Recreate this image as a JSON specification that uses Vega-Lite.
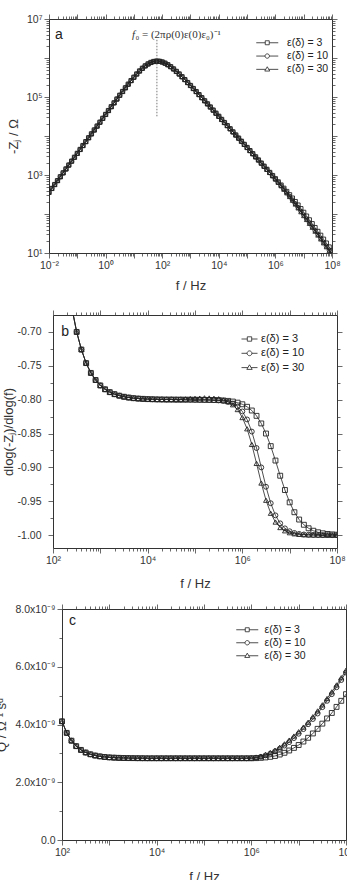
{
  "$schema": "https://vega.github.io/schema/vega-lite/v6.json",
  "background": "white",
  "padding": {"left": -5, "top": 13, "right": 0, "bottom": 0},
  "config": {
    "font": "Liberation Sans",
    "view": {"stroke": null},
    "axis": {"grid": false, "domain": false, "domainColor": "#333", "domainWidth": 1, "labelFontSize": 10.5, "labelColor": "#333", "labelFlush": false, "tickColor": "#444", "tickWidth": 0.8, "tickSize": 5, "titleFontSize": 13, "titleFontWeight": "normal", "titleColor": "#333", "labelOverlap": false, "labelPadding": 2},
    "legend": {"padding": 0}
  },
  "datasets": {
    "impedance": [
      {"f": 1e-2, "v": 358.9, "s": "ε(δ) = 3"}, {"f": 1.2589e-2, "v": 451.8, "s": "ε(δ) = 3"}, {"f": 1.5849e-2, "v": 568.9, "s": "ε(δ) = 3"}, {"f": 1.9953e-2, "v": 716.2, "s": "ε(δ) = 3"}, {"f": 2.5119e-2, "v": 901.6, "s": "ε(δ) = 3"}, {"f": 3.1623e-2, "v": 1135, "s": "ε(δ) = 3"}, {"f": 3.9811e-2, "v": 1429, "s": "ε(δ) = 3"}, {"f": 5.0119e-2, "v": 1799, "s": "ε(δ) = 3"}, {"f": 6.3096e-2, "v": 2265, "s": "ε(δ) = 3"}, {"f": 7.9433e-2, "v": 2851, "s": "ε(δ) = 3"},
      {"f": 1e-1, "v": 3589, "s": "ε(δ) = 3"}, {"f": 1.2589e-1, "v": 4518, "s": "ε(δ) = 3"}, {"f": 1.5849e-1, "v": 5689, "s": "ε(δ) = 3"}, {"f": 1.9953e-1, "v": 7162, "s": "ε(δ) = 3"}, {"f": 2.5119e-1, "v": 9010, "s": "ε(δ) = 3"}, {"f": 3.1623e-1, "v": 11340, "s": "ε(δ) = 3"}, {"f": 3.9811e-1, "v": 14271, "s": "ε(δ) = 3"}, {"f": 5.0119e-1, "v": 17957, "s": "ε(δ) = 3"}, {"f": 6.3096e-1, "v": 22594, "s": "ε(δ) = 3"}, {"f": 7.9433e-1, "v": 28411, "s": "ε(δ) = 3"},
      {"f": 1, "v": 35727, "s": "ε(δ) = 3"}, {"f": 1.2589, "v": 44895, "s": "ε(δ) = 3"}, {"f": 1.5849, "v": 56392, "s": "ε(δ) = 3"}, {"f": 1.9953, "v": 70795, "s": "ε(δ) = 3"}, {"f": 2.5119, "v": 88716, "s": "ε(δ) = 3"}, {"f": 3.1623, "v": 110920, "s": "ε(δ) = 3"}, {"f": 3.9811, "v": 138360, "s": "ε(δ) = 3"}, {"f": 5.0119, "v": 172190, "s": "ε(δ) = 3"}, {"f": 6.3096, "v": 213300, "s": "ε(δ) = 3"}, {"f": 7.9433, "v": 263030, "s": "ε(δ) = 3"},
      {"f": 10, "v": 321380, "s": "ε(δ) = 3"}, {"f": 12.589, "v": 389050, "s": "ε(δ) = 3"}, {"f": 15.849, "v": 464520, "s": "ε(δ) = 3"}, {"f": 19.953, "v": 545750, "s": "ε(δ) = 3"}, {"f": 25.119, "v": 628060, "s": "ε(δ) = 3"}, {"f": 31.623, "v": 704720, "s": "ε(δ) = 3"}, {"f": 39.811, "v": 769110, "s": "ε(δ) = 3"}, {"f": 50.119, "v": 812830, "s": "ε(δ) = 3"}, {"f": 63.096, "v": 831760, "s": "ε(δ) = 3"}, {"f": 79.433, "v": 824110, "s": "ε(δ) = 3"},
      {"f": 100, "v": 790680, "s": "ε(δ) = 3"}, {"f": 125.89, "v": 737880, "s": "ε(δ) = 3"}, {"f": 158.49, "v": 671400, "s": "ε(δ) = 3"}, {"f": 199.53, "v": 598400, "s": "ε(δ) = 3"}, {"f": 251.19, "v": 524810, "s": "ε(δ) = 3"}, {"f": 316.23, "v": 452890, "s": "ε(δ) = 3"}, {"f": 398.11, "v": 389050, "s": "ε(δ) = 3"}, {"f": 501.19, "v": 330370, "s": "ε(δ) = 3"}, {"f": 630.96, "v": 279250, "s": "ε(δ) = 3"}, {"f": 794.33, "v": 234420, "s": "ε(δ) = 3"},
      {"f": 1000, "v": 197240, "s": "ε(δ) = 3"}, {"f": 1258.9, "v": 164810, "s": "ε(δ) = 3"}, {"f": 1584.9, "v": 137720, "s": "ε(δ) = 3"}, {"f": 1995.3, "v": 115080, "s": "ε(δ) = 3"}, {"f": 2511.9, "v": 95940, "s": "ε(δ) = 3"}, {"f": 3162.3, "v": 79980, "s": "ε(δ) = 3"}, {"f": 3981.1, "v": 66680, "s": "ε(δ) = 3"}, {"f": 5011.9, "v": 55462, "s": "ε(δ) = 3"}, {"f": 6309.6, "v": 46133, "s": "ε(δ) = 3"}, {"f": 7943.3, "v": 38372, "s": "ε(δ) = 3"},
      {"f": 1e4, "v": 31989, "s": "ε(δ) = 3"}, {"f": 1.2589e4, "v": 26607, "s": "ε(δ) = 3"}, {"f": 1.5849e4, "v": 22131, "s": "ε(δ) = 3"}, {"f": 1.9953e4, "v": 18408, "s": "ε(δ) = 3"}, {"f": 2.5119e4, "v": 15311, "s": "ε(δ) = 3"}, {"f": 3.1623e4, "v": 12735, "s": "ε(δ) = 3"}, {"f": 3.9811e4, "v": 10593, "s": "ε(δ) = 3"}, {"f": 5.0119e4, "v": 8810.6, "s": "ε(δ) = 3"}, {"f": 6.3096e4, "v": 7328.4, "s": "ε(δ) = 3"}, {"f": 7.9433e4, "v": 6095.5, "s": "ε(δ) = 3"},
      {"f": 1e5, "v": 5070, "s": "ε(δ) = 3"}, {"f": 1.2589e5, "v": 4217, "s": "ε(δ) = 3"}, {"f": 1.5849e5, "v": 3507.6, "s": "ε(δ) = 3"}, {"f": 1.9953e5, "v": 2917.5, "s": "ε(δ) = 3"}, {"f": 2.5119e5, "v": 2426.7, "s": "ε(δ) = 3"}, {"f": 3.1623e5, "v": 2018.4, "s": "ε(δ) = 3"}, {"f": 3.9811e5, "v": 1678.8, "s": "ε(δ) = 3"}, {"f": 5.0119e5, "v": 1396.4, "s": "ε(δ) = 3"}, {"f": 6.3096e5, "v": 1161.5, "s": "ε(δ) = 3"}, {"f": 7.9433e5, "v": 966.1, "s": "ε(δ) = 3"},
      {"f": 1e6, "v": 800.6, "s": "ε(δ) = 3"}, {"f": 1.2589e6, "v": 664.7, "s": "ε(δ) = 3"}, {"f": 1.5849e6, "v": 551.2, "s": "ε(δ) = 3"}, {"f": 1.9953e6, "v": 456.4, "s": "ε(δ) = 3"}, {"f": 2.5119e6, "v": 377.1, "s": "ε(δ) = 3"}, {"f": 3.1623e6, "v": 310.6, "s": "ε(δ) = 3"}, {"f": 3.9811e6, "v": 254.9, "s": "ε(δ) = 3"}, {"f": 5.0119e6, "v": 208.2, "s": "ε(δ) = 3"}, {"f": 6.3096e6, "v": 169.2, "s": "ε(δ) = 3"}, {"f": 7.9433e6, "v": 136.8, "s": "ε(δ) = 3"},
      {"f": 1e7, "v": 110.1, "s": "ε(δ) = 3"}, {"f": 1.2589e7, "v": 88.2, "s": "ε(δ) = 3"}, {"f": 1.5849e7, "v": 70.6, "s": "ε(δ) = 3"}, {"f": 1.9953e7, "v": 56.3, "s": "ε(δ) = 3"}, {"f": 2.5119e7, "v": 44.8, "s": "ε(δ) = 3"}, {"f": 3.1623e7, "v": 35.7, "s": "ε(δ) = 3"}, {"f": 3.9811e7, "v": 28.4, "s": "ε(δ) = 3"}, {"f": 5.0119e7, "v": 22.55, "s": "ε(δ) = 3"}, {"f": 6.3096e7, "v": 17.92, "s": "ε(δ) = 3"}, {"f": 7.9433e7, "v": 14.24, "s": "ε(δ) = 3"}, {"f": 1e8, "v": 11.32, "s": "ε(δ) = 3"},

      {"f": 1e-2, "v": 358.9, "s": "ε(δ) = 10"}, {"f": 1.2589e-2, "v": 451.8, "s": "ε(δ) = 10"}, {"f": 1.5849e-2, "v": 568.9, "s": "ε(δ) = 10"}, {"f": 1.9953e-2, "v": 716.2, "s": "ε(δ) = 10"}, {"f": 2.5119e-2, "v": 901.6, "s": "ε(δ) = 10"}, {"f": 3.1623e-2, "v": 1135, "s": "ε(δ) = 10"}, {"f": 3.9811e-2, "v": 1429, "s": "ε(δ) = 10"}, {"f": 5.0119e-2, "v": 1799, "s": "ε(δ) = 10"}, {"f": 6.3096e-2, "v": 2265, "s": "ε(δ) = 10"}, {"f": 7.9433e-2, "v": 2851, "s": "ε(δ) = 10"},
      {"f": 1e-1, "v": 3589, "s": "ε(δ) = 10"}, {"f": 1.2589e-1, "v": 4518, "s": "ε(δ) = 10"}, {"f": 1.5849e-1, "v": 5689, "s": "ε(δ) = 10"}, {"f": 1.9953e-1, "v": 7162, "s": "ε(δ) = 10"}, {"f": 2.5119e-1, "v": 9010, "s": "ε(δ) = 10"}, {"f": 3.1623e-1, "v": 11340, "s": "ε(δ) = 10"}, {"f": 3.9811e-1, "v": 14271, "s": "ε(δ) = 10"}, {"f": 5.0119e-1, "v": 17957, "s": "ε(δ) = 10"}, {"f": 6.3096e-1, "v": 22594, "s": "ε(δ) = 10"}, {"f": 7.9433e-1, "v": 28411, "s": "ε(δ) = 10"},
      {"f": 1, "v": 35727, "s": "ε(δ) = 10"}, {"f": 1.2589, "v": 44895, "s": "ε(δ) = 10"}, {"f": 1.5849, "v": 56392, "s": "ε(δ) = 10"}, {"f": 1.9953, "v": 70795, "s": "ε(δ) = 10"}, {"f": 2.5119, "v": 88716, "s": "ε(δ) = 10"}, {"f": 3.1623, "v": 110920, "s": "ε(δ) = 10"}, {"f": 3.9811, "v": 138360, "s": "ε(δ) = 10"}, {"f": 5.0119, "v": 172190, "s": "ε(δ) = 10"}, {"f": 6.3096, "v": 213300, "s": "ε(δ) = 10"}, {"f": 7.9433, "v": 263030, "s": "ε(δ) = 10"},
      {"f": 10, "v": 321380, "s": "ε(δ) = 10"}, {"f": 12.589, "v": 389050, "s": "ε(δ) = 10"}, {"f": 15.849, "v": 464520, "s": "ε(δ) = 10"}, {"f": 19.953, "v": 545750, "s": "ε(δ) = 10"}, {"f": 25.119, "v": 628060, "s": "ε(δ) = 10"}, {"f": 31.623, "v": 704720, "s": "ε(δ) = 10"}, {"f": 39.811, "v": 769110, "s": "ε(δ) = 10"}, {"f": 50.119, "v": 812830, "s": "ε(δ) = 10"}, {"f": 63.096, "v": 831760, "s": "ε(δ) = 10"}, {"f": 79.433, "v": 824110, "s": "ε(δ) = 10"},
      {"f": 100, "v": 790680, "s": "ε(δ) = 10"}, {"f": 125.89, "v": 737880, "s": "ε(δ) = 10"}, {"f": 158.49, "v": 671400, "s": "ε(δ) = 10"}, {"f": 199.53, "v": 598400, "s": "ε(δ) = 10"}, {"f": 251.19, "v": 524810, "s": "ε(δ) = 10"}, {"f": 316.23, "v": 452890, "s": "ε(δ) = 10"}, {"f": 398.11, "v": 389050, "s": "ε(δ) = 10"}, {"f": 501.19, "v": 330370, "s": "ε(δ) = 10"}, {"f": 630.96, "v": 279250, "s": "ε(δ) = 10"}, {"f": 794.33, "v": 234420, "s": "ε(δ) = 10"},
      {"f": 1000, "v": 197240, "s": "ε(δ) = 10"}, {"f": 1258.9, "v": 164810, "s": "ε(δ) = 10"}, {"f": 1584.9, "v": 137720, "s": "ε(δ) = 10"}, {"f": 1995.3, "v": 115080, "s": "ε(δ) = 10"}, {"f": 2511.9, "v": 95940, "s": "ε(δ) = 10"}, {"f": 3162.3, "v": 79980, "s": "ε(δ) = 10"}, {"f": 3981.1, "v": 66680, "s": "ε(δ) = 10"}, {"f": 5011.9, "v": 55462, "s": "ε(δ) = 10"}, {"f": 6309.6, "v": 46133, "s": "ε(δ) = 10"}, {"f": 7943.3, "v": 38372, "s": "ε(δ) = 10"},
      {"f": 1e4, "v": 31989, "s": "ε(δ) = 10"}, {"f": 1.2589e4, "v": 26607, "s": "ε(δ) = 10"}, {"f": 1.5849e4, "v": 22131, "s": "ε(δ) = 10"}, {"f": 1.9953e4, "v": 18408, "s": "ε(δ) = 10"}, {"f": 2.5119e4, "v": 15311, "s": "ε(δ) = 10"}, {"f": 3.1623e4, "v": 12735, "s": "ε(δ) = 10"}, {"f": 3.9811e4, "v": 10593, "s": "ε(δ) = 10"}, {"f": 5.0119e4, "v": 8810.6, "s": "ε(δ) = 10"}, {"f": 6.3096e4, "v": 7328.4, "s": "ε(δ) = 10"}, {"f": 7.9433e4, "v": 6095.5, "s": "ε(δ) = 10"},
      {"f": 1e5, "v": 5070, "s": "ε(δ) = 10"}, {"f": 1.2589e5, "v": 4217, "s": "ε(δ) = 10"}, {"f": 1.5849e5, "v": 3507.6, "s": "ε(δ) = 10"}, {"f": 1.9953e5, "v": 2917.5, "s": "ε(δ) = 10"}, {"f": 2.5119e5, "v": 2426.7, "s": "ε(δ) = 10"}, {"f": 3.1623e5, "v": 2013.8, "s": "ε(δ) = 10"}, {"f": 3.9811e5, "v": 1672.6, "s": "ε(δ) = 10"}, {"f": 5.0119e5, "v": 1388.7, "s": "ε(δ) = 10"}, {"f": 6.3096e5, "v": 1151.6, "s": "ε(δ) = 10"}, {"f": 7.9433e5, "v": 953.5, "s": "ε(δ) = 10"},
      {"f": 1e6, "v": 787.9, "s": "ε(δ) = 10"}, {"f": 1.2589e6, "v": 649.0, "s": "ε(δ) = 10"}, {"f": 1.5849e6, "v": 532.4, "s": "ε(δ) = 10"}, {"f": 1.9953e6, "v": 434.9, "s": "ε(δ) = 10"}, {"f": 2.5119e6, "v": 353.4, "s": "ε(δ) = 10"}, {"f": 3.1623e6, "v": 285.7, "s": "ε(δ) = 10"}, {"f": 3.9811e6, "v": 230.0, "s": "ε(δ) = 10"}, {"f": 5.0119e6, "v": 184.4, "s": "ε(δ) = 10"}, {"f": 6.3096e6, "v": 147.5, "s": "ε(δ) = 10"}, {"f": 7.9433e6, "v": 117.6, "s": "ε(δ) = 10"},
      {"f": 1e7, "v": 93.68, "s": "ε(δ) = 10"}, {"f": 1.2589e7, "v": 74.56, "s": "ε(δ) = 10"}, {"f": 1.5849e7, "v": 59.30, "s": "ε(δ) = 10"}, {"f": 1.9953e7, "v": 47.14, "s": "ε(δ) = 10"}, {"f": 2.5119e7, "v": 37.45, "s": "ε(δ) = 10"}, {"f": 3.1623e7, "v": 29.76, "s": "ε(δ) = 10"}, {"f": 3.9811e7, "v": 23.64, "s": "ε(δ) = 10"}, {"f": 5.0119e7, "v": 18.78, "s": "ε(δ) = 10"}, {"f": 6.3096e7, "v": 14.92, "s": "ε(δ) = 10"}, {"f": 7.9433e7, "v": 11.86, "s": "ε(δ) = 10"}, {"f": 1e8, "v": 9.42, "s": "ε(δ) = 10"},

      {"f": 1e-2, "v": 358.9, "s": "ε(δ) = 30"}, {"f": 1.2589e-2, "v": 451.8, "s": "ε(δ) = 30"}, {"f": 1.5849e-2, "v": 568.9, "s": "ε(δ) = 30"}, {"f": 1.9953e-2, "v": 716.2, "s": "ε(δ) = 30"}, {"f": 2.5119e-2, "v": 901.6, "s": "ε(δ) = 30"}, {"f": 3.1623e-2, "v": 1135, "s": "ε(δ) = 30"}, {"f": 3.9811e-2, "v": 1429, "s": "ε(δ) = 30"}, {"f": 5.0119e-2, "v": 1799, "s": "ε(δ) = 30"}, {"f": 6.3096e-2, "v": 2265, "s": "ε(δ) = 30"}, {"f": 7.9433e-2, "v": 2851, "s": "ε(δ) = 30"},
      {"f": 1e-1, "v": 3589, "s": "ε(δ) = 30"}, {"f": 1.2589e-1, "v": 4518, "s": "ε(δ) = 30"}, {"f": 1.5849e-1, "v": 5689, "s": "ε(δ) = 30"}, {"f": 1.9953e-1, "v": 7162, "s": "ε(δ) = 30"}, {"f": 2.5119e-1, "v": 9010, "s": "ε(δ) = 30"}, {"f": 3.1623e-1, "v": 11340, "s": "ε(δ) = 30"}, {"f": 3.9811e-1, "v": 14271, "s": "ε(δ) = 30"}, {"f": 5.0119e-1, "v": 17957, "s": "ε(δ) = 30"}, {"f": 6.3096e-1, "v": 22594, "s": "ε(δ) = 30"}, {"f": 7.9433e-1, "v": 28411, "s": "ε(δ) = 30"},
      {"f": 1, "v": 35727, "s": "ε(δ) = 30"}, {"f": 1.2589, "v": 44895, "s": "ε(δ) = 30"}, {"f": 1.5849, "v": 56392, "s": "ε(δ) = 30"}, {"f": 1.9953, "v": 70795, "s": "ε(δ) = 30"}, {"f": 2.5119, "v": 88716, "s": "ε(δ) = 30"}, {"f": 3.1623, "v": 110920, "s": "ε(δ) = 30"}, {"f": 3.9811, "v": 138360, "s": "ε(δ) = 30"}, {"f": 5.0119, "v": 172190, "s": "ε(δ) = 30"}, {"f": 6.3096, "v": 213300, "s": "ε(δ) = 30"}, {"f": 7.9433, "v": 263030, "s": "ε(δ) = 30"},
      {"f": 10, "v": 321380, "s": "ε(δ) = 30"}, {"f": 12.589, "v": 389050, "s": "ε(δ) = 30"}, {"f": 15.849, "v": 464520, "s": "ε(δ) = 30"}, {"f": 19.953, "v": 545750, "s": "ε(δ) = 30"}, {"f": 25.119, "v": 628060, "s": "ε(δ) = 30"}, {"f": 31.623, "v": 704720, "s": "ε(δ) = 30"}, {"f": 39.811, "v": 769110, "s": "ε(δ) = 30"}, {"f": 50.119, "v": 812830, "s": "ε(δ) = 30"}, {"f": 63.096, "v": 831760, "s": "ε(δ) = 30"}, {"f": 79.433, "v": 824110, "s": "ε(δ) = 30"},
      {"f": 100, "v": 790680, "s": "ε(δ) = 30"}, {"f": 125.89, "v": 737880, "s": "ε(δ) = 30"}, {"f": 158.49, "v": 671400, "s": "ε(δ) = 30"}, {"f": 199.53, "v": 598400, "s": "ε(δ) = 30"}, {"f": 251.19, "v": 524810, "s": "ε(δ) = 30"}, {"f": 316.23, "v": 452890, "s": "ε(δ) = 30"}, {"f": 398.11, "v": 389050, "s": "ε(δ) = 30"}, {"f": 501.19, "v": 330370, "s": "ε(δ) = 30"}, {"f": 630.96, "v": 279250, "s": "ε(δ) = 30"}, {"f": 794.33, "v": 234420, "s": "ε(δ) = 30"},
      {"f": 1000, "v": 197240, "s": "ε(δ) = 30"}, {"f": 1258.9, "v": 164810, "s": "ε(δ) = 30"}, {"f": 1584.9, "v": 137720, "s": "ε(δ) = 30"}, {"f": 1995.3, "v": 115080, "s": "ε(δ) = 30"}, {"f": 2511.9, "v": 95940, "s": "ε(δ) = 30"}, {"f": 3162.3, "v": 79980, "s": "ε(δ) = 30"}, {"f": 3981.1, "v": 66680, "s": "ε(δ) = 30"}, {"f": 5011.9, "v": 55462, "s": "ε(δ) = 30"}, {"f": 6309.6, "v": 46133, "s": "ε(δ) = 30"}, {"f": 7943.3, "v": 38372, "s": "ε(δ) = 30"},
      {"f": 1e4, "v": 31989, "s": "ε(δ) = 30"}, {"f": 1.2589e4, "v": 26607, "s": "ε(δ) = 30"}, {"f": 1.5849e4, "v": 22131, "s": "ε(δ) = 30"}, {"f": 1.9953e4, "v": 18408, "s": "ε(δ) = 30"}, {"f": 2.5119e4, "v": 15311, "s": "ε(δ) = 30"}, {"f": 3.1623e4, "v": 12735, "s": "ε(δ) = 30"}, {"f": 3.9811e4, "v": 10593, "s": "ε(δ) = 30"}, {"f": 5.0119e4, "v": 8810.6, "s": "ε(δ) = 30"}, {"f": 6.3096e4, "v": 7328.4, "s": "ε(δ) = 30"}, {"f": 7.9433e4, "v": 6095.5, "s": "ε(δ) = 30"},
      {"f": 1e5, "v": 5070, "s": "ε(δ) = 30"}, {"f": 1.2589e5, "v": 4217, "s": "ε(δ) = 30"}, {"f": 1.5849e5, "v": 3507.6, "s": "ε(δ) = 30"}, {"f": 1.9953e5, "v": 2917.5, "s": "ε(δ) = 30"}, {"f": 2.5119e5, "v": 2426.7, "s": "ε(δ) = 30"}, {"f": 3.1623e5, "v": 2010.9, "s": "ε(δ) = 30"}, {"f": 3.9811e5, "v": 1669.6, "s": "ε(δ) = 30"}, {"f": 5.0119e5, "v": 1384.5, "s": "ε(δ) = 30"}, {"f": 6.3096e5, "v": 1146.4, "s": "ε(δ) = 30"}, {"f": 7.9433e5, "v": 947.2, "s": "ε(δ) = 30"},
      {"f": 1e6, "v": 780.3, "s": "ε(δ) = 30"}, {"f": 1.2589e6, "v": 640.2, "s": "ε(δ) = 30"}, {"f": 1.5849e6, "v": 522.9, "s": "ε(δ) = 30"}, {"f": 1.9953e6, "v": 424.9, "s": "ε(δ) = 30"}, {"f": 2.5119e6, "v": 343.5, "s": "ε(δ) = 30"}, {"f": 3.1623e6, "v": 276.5, "s": "ε(δ) = 30"}, {"f": 3.9811e6, "v": 221.7, "s": "ε(δ) = 30"}, {"f": 5.0119e6, "v": 177.3, "s": "ε(δ) = 30"}, {"f": 6.3096e6, "v": 141.4, "s": "ε(δ) = 30"}, {"f": 7.9433e6, "v": 112.6, "s": "ε(δ) = 30"},
      {"f": 1e7, "v": 89.65, "s": "ε(δ) = 30"}, {"f": 1.2589e7, "v": 71.28, "s": "ε(δ) = 30"}, {"f": 1.5849e7, "v": 56.66, "s": "ε(δ) = 30"}, {"f": 1.9953e7, "v": 45.03, "s": "ε(δ) = 30"}, {"f": 2.5119e7, "v": 35.77, "s": "ε(δ) = 30"}, {"f": 3.1623e7, "v": 28.43, "s": "ε(δ) = 30"}, {"f": 3.9811e7, "v": 22.58, "s": "ε(δ) = 30"}, {"f": 5.0119e7, "v": 17.94, "s": "ε(δ) = 30"}, {"f": 6.3096e7, "v": 14.25, "s": "ε(δ) = 30"}, {"f": 7.9433e7, "v": 11.32, "s": "ε(δ) = 30"}, {"f": 1e8, "v": 8.99, "s": "ε(δ) = 30"}
    ],
    "slope": [
      {"f": 251.19, "v": -0.665, "s": "ε(δ) = 3"}, {"f": 316.23, "v": -0.700, "s": "ε(δ) = 3"}, {"f": 398.11, "v": -0.726, "s": "ε(δ) = 3"}, {"f": 501.19, "v": -0.746, "s": "ε(δ) = 3"}, {"f": 630.96, "v": -0.7605, "s": "ε(δ) = 3"}, {"f": 794.33, "v": -0.771, "s": "ε(δ) = 3"},
      {"f": 1000, "v": -0.779, "s": "ε(δ) = 3"}, {"f": 1258.9, "v": -0.7847, "s": "ε(δ) = 3"}, {"f": 1584.9, "v": -0.7889, "s": "ε(δ) = 3"}, {"f": 1995.3, "v": -0.7919, "s": "ε(δ) = 3"}, {"f": 2511.9, "v": -0.7941, "s": "ε(δ) = 3"}, {"f": 3162.3, "v": -0.7957, "s": "ε(δ) = 3"}, {"f": 3981.1, "v": -0.7969, "s": "ε(δ) = 3"}, {"f": 5011.9, "v": -0.7978, "s": "ε(δ) = 3"}, {"f": 6309.6, "v": -0.7984, "s": "ε(δ) = 3"}, {"f": 7943.3, "v": -0.7988, "s": "ε(δ) = 3"},
      {"f": 1e4, "v": -0.7992, "s": "ε(δ) = 3"}, {"f": 1.2589e4, "v": -0.7994, "s": "ε(δ) = 3"}, {"f": 1.5849e4, "v": -0.7996, "s": "ε(δ) = 3"}, {"f": 1.9953e4, "v": -0.7997, "s": "ε(δ) = 3"}, {"f": 2.5119e4, "v": -0.7998, "s": "ε(δ) = 3"}, {"f": 3.1623e4, "v": -0.7998, "s": "ε(δ) = 3"}, {"f": 3.9811e4, "v": -0.7999, "s": "ε(δ) = 3"}, {"f": 5.0119e4, "v": -0.7999, "s": "ε(δ) = 3"}, {"f": 6.3096e4, "v": -0.8, "s": "ε(δ) = 3"}, {"f": 7.9433e4, "v": -0.8, "s": "ε(δ) = 3"},
      {"f": 1e5, "v": -0.8001, "s": "ε(δ) = 3"}, {"f": 1.2589e5, "v": -0.8002, "s": "ε(δ) = 3"}, {"f": 1.5849e5, "v": -0.8003, "s": "ε(δ) = 3"}, {"f": 1.9953e5, "v": -0.8004, "s": "ε(δ) = 3"}, {"f": 2.5119e5, "v": -0.8005, "s": "ε(δ) = 3"}, {"f": 3.1623e5, "v": -0.8007, "s": "ε(δ) = 3"}, {"f": 3.9811e5, "v": -0.8012, "s": "ε(δ) = 3"}, {"f": 5.0119e5, "v": -0.8018, "s": "ε(δ) = 3"}, {"f": 6.3096e5, "v": -0.8028, "s": "ε(δ) = 3"}, {"f": 7.9433e5, "v": -0.8044, "s": "ε(δ) = 3"},
      {"f": 1e6, "v": -0.8068, "s": "ε(δ) = 3"}, {"f": 1.2589e6, "v": -0.8105, "s": "ε(δ) = 3"}, {"f": 1.5849e6, "v": -0.816, "s": "ε(δ) = 3"}, {"f": 1.9953e6, "v": -0.8239, "s": "ε(δ) = 3"}, {"f": 2.5119e6, "v": -0.8351, "s": "ε(δ) = 3"}, {"f": 3.1623e6, "v": -0.85, "s": "ε(δ) = 3"}, {"f": 3.9811e6, "v": -0.8686, "s": "ε(δ) = 3"}, {"f": 5.0119e6, "v": -0.8899, "s": "ε(δ) = 3"}, {"f": 6.3096e6, "v": -0.9123, "s": "ε(δ) = 3"}, {"f": 7.9433e6, "v": -0.9334, "s": "ε(δ) = 3"},
      {"f": 1e7, "v": -0.9516, "s": "ε(δ) = 3"}, {"f": 1.2589e7, "v": -0.9662, "s": "ε(δ) = 3"}, {"f": 1.5849e7, "v": -0.977, "s": "ε(δ) = 3"}, {"f": 1.9953e7, "v": -0.9847, "s": "ε(δ) = 3"}, {"f": 2.5119e7, "v": -0.9899, "s": "ε(δ) = 3"}, {"f": 3.1623e7, "v": -0.9935, "s": "ε(δ) = 3"}, {"f": 3.9811e7, "v": -0.9958, "s": "ε(δ) = 3"}, {"f": 5.0119e7, "v": -0.9973, "s": "ε(δ) = 3"}, {"f": 6.3096e7, "v": -0.9983, "s": "ε(δ) = 3"}, {"f": 7.9433e7, "v": -0.9989, "s": "ε(δ) = 3"}, {"f": 1e8, "v": -0.9993, "s": "ε(δ) = 3"},

      {"f": 251.19, "v": -0.665, "s": "ε(δ) = 10"}, {"f": 316.23, "v": -0.700, "s": "ε(δ) = 10"}, {"f": 398.11, "v": -0.726, "s": "ε(δ) = 10"}, {"f": 501.19, "v": -0.746, "s": "ε(δ) = 10"}, {"f": 630.96, "v": -0.7605, "s": "ε(δ) = 10"}, {"f": 794.33, "v": -0.771, "s": "ε(δ) = 10"},
      {"f": 1000, "v": -0.779, "s": "ε(δ) = 10"}, {"f": 1258.9, "v": -0.7847, "s": "ε(δ) = 10"}, {"f": 1584.9, "v": -0.7889, "s": "ε(δ) = 10"}, {"f": 1995.3, "v": -0.7919, "s": "ε(δ) = 10"}, {"f": 2511.9, "v": -0.7941, "s": "ε(δ) = 10"}, {"f": 3162.3, "v": -0.7957, "s": "ε(δ) = 10"}, {"f": 3981.1, "v": -0.7969, "s": "ε(δ) = 10"}, {"f": 5011.9, "v": -0.7978, "s": "ε(δ) = 10"}, {"f": 6309.6, "v": -0.7984, "s": "ε(δ) = 10"}, {"f": 7943.3, "v": -0.7988, "s": "ε(δ) = 10"},
      {"f": 1e4, "v": -0.7992, "s": "ε(δ) = 10"}, {"f": 1.2589e4, "v": -0.7994, "s": "ε(δ) = 10"}, {"f": 1.5849e4, "v": -0.7996, "s": "ε(δ) = 10"}, {"f": 1.9953e4, "v": -0.7997, "s": "ε(δ) = 10"}, {"f": 2.5119e4, "v": -0.7998, "s": "ε(δ) = 10"}, {"f": 3.1623e4, "v": -0.7998, "s": "ε(δ) = 10"}, {"f": 3.9811e4, "v": -0.7999, "s": "ε(δ) = 10"}, {"f": 5.0119e4, "v": -0.7999, "s": "ε(δ) = 10"}, {"f": 6.3096e4, "v": -0.8, "s": "ε(δ) = 10"}, {"f": 7.9433e4, "v": -0.8, "s": "ε(δ) = 10"},
      {"f": 1e5, "v": -0.8001, "s": "ε(δ) = 10"}, {"f": 1.2589e5, "v": -0.8001, "s": "ε(δ) = 10"}, {"f": 1.5849e5, "v": -0.8002, "s": "ε(δ) = 10"}, {"f": 1.9953e5, "v": -0.8003, "s": "ε(δ) = 10"}, {"f": 2.5119e5, "v": -0.8006, "s": "ε(δ) = 10"}, {"f": 3.1623e5, "v": -0.801, "s": "ε(δ) = 10"}, {"f": 3.9811e5, "v": -0.8018, "s": "ε(δ) = 10"}, {"f": 5.0119e5, "v": -0.8032, "s": "ε(δ) = 10"}, {"f": 6.3096e5, "v": -0.8057, "s": "ε(δ) = 10"}, {"f": 7.9433e5, "v": -0.81, "s": "ε(δ) = 10"},
      {"f": 1e6, "v": -0.8174, "s": "ε(δ) = 10"}, {"f": 1.2589e6, "v": -0.8292, "s": "ε(δ) = 10"}, {"f": 1.5849e6, "v": -0.8471, "s": "ε(δ) = 10"}, {"f": 1.9953e6, "v": -0.8714, "s": "ε(δ) = 10"}, {"f": 2.5119e6, "v": -0.9, "s": "ε(δ) = 10"}, {"f": 3.1623e6, "v": -0.9286, "s": "ε(δ) = 10"}, {"f": 3.9811e6, "v": -0.9529, "s": "ε(δ) = 10"}, {"f": 5.0119e6, "v": -0.9708, "s": "ε(δ) = 10"}, {"f": 6.3096e6, "v": -0.9826, "s": "ε(δ) = 10"}, {"f": 7.9433e6, "v": -0.99, "s": "ε(δ) = 10"},
      {"f": 1e7, "v": -0.9943, "s": "ε(δ) = 10"}, {"f": 1.2589e7, "v": -0.9968, "s": "ε(δ) = 10"}, {"f": 1.5849e7, "v": -0.9982, "s": "ε(δ) = 10"}, {"f": 1.9953e7, "v": -0.999, "s": "ε(δ) = 10"}, {"f": 2.5119e7, "v": -0.9994, "s": "ε(δ) = 10"}, {"f": 3.1623e7, "v": -0.9997, "s": "ε(δ) = 10"}, {"f": 3.9811e7, "v": -0.9998, "s": "ε(δ) = 10"}, {"f": 5.0119e7, "v": -0.9999, "s": "ε(δ) = 10"}, {"f": 6.3096e7, "v": -0.9999, "s": "ε(δ) = 10"}, {"f": 7.9433e7, "v": -1.0, "s": "ε(δ) = 10"}, {"f": 1e8, "v": -1.0, "s": "ε(δ) = 10"},

      {"f": 251.19, "v": -0.665, "s": "ε(δ) = 30"}, {"f": 316.23, "v": -0.700, "s": "ε(δ) = 30"}, {"f": 398.11, "v": -0.726, "s": "ε(δ) = 30"}, {"f": 501.19, "v": -0.746, "s": "ε(δ) = 30"}, {"f": 630.96, "v": -0.7605, "s": "ε(δ) = 30"}, {"f": 794.33, "v": -0.771, "s": "ε(δ) = 30"},
      {"f": 1000, "v": -0.779, "s": "ε(δ) = 30"}, {"f": 1258.9, "v": -0.7847, "s": "ε(δ) = 30"}, {"f": 1584.9, "v": -0.7889, "s": "ε(δ) = 30"}, {"f": 1995.3, "v": -0.7919, "s": "ε(δ) = 30"}, {"f": 2511.9, "v": -0.7941, "s": "ε(δ) = 30"}, {"f": 3162.3, "v": -0.7957, "s": "ε(δ) = 30"}, {"f": 3981.1, "v": -0.7969, "s": "ε(δ) = 30"}, {"f": 5011.9, "v": -0.7978, "s": "ε(δ) = 30"}, {"f": 6309.6, "v": -0.7984, "s": "ε(δ) = 30"}, {"f": 7943.3, "v": -0.7988, "s": "ε(δ) = 30"},
      {"f": 1e4, "v": -0.7992, "s": "ε(δ) = 30"}, {"f": 1.2589e4, "v": -0.7994, "s": "ε(δ) = 30"}, {"f": 1.5849e4, "v": -0.7996, "s": "ε(δ) = 30"}, {"f": 1.9953e4, "v": -0.7997, "s": "ε(δ) = 30"}, {"f": 2.5119e4, "v": -0.7998, "s": "ε(δ) = 30"}, {"f": 3.1623e4, "v": -0.7998, "s": "ε(δ) = 30"}, {"f": 3.9811e4, "v": -0.7999, "s": "ε(δ) = 30"}, {"f": 5.0119e4, "v": -0.7999, "s": "ε(δ) = 30"}, {"f": 6.3096e4, "v": -0.799, "s": "ε(δ) = 30"}, {"f": 7.9433e4, "v": -0.7985, "s": "ε(δ) = 30"},
      {"f": 1e5, "v": -0.7981, "s": "ε(δ) = 30"}, {"f": 1.2589e5, "v": -0.7977, "s": "ε(δ) = 30"}, {"f": 1.5849e5, "v": -0.7973, "s": "ε(δ) = 30"}, {"f": 1.9953e5, "v": -0.7975, "s": "ε(δ) = 30"}, {"f": 2.5119e5, "v": -0.7979, "s": "ε(δ) = 30"}, {"f": 3.1623e5, "v": -0.7986, "s": "ε(δ) = 30"}, {"f": 3.9811e5, "v": -0.8004, "s": "ε(δ) = 30"}, {"f": 5.0119e5, "v": -0.8031, "s": "ε(δ) = 30"}, {"f": 6.3096e5, "v": -0.8075, "s": "ε(δ) = 30"}, {"f": 7.9433e5, "v": -0.8146, "s": "ε(δ) = 30"},
      {"f": 1e6, "v": -0.8264, "s": "ε(δ) = 30"}, {"f": 1.2589e6, "v": -0.843, "s": "ε(δ) = 30"}, {"f": 1.5849e6, "v": -0.8661, "s": "ε(δ) = 30"}, {"f": 1.9953e6, "v": -0.8941, "s": "ε(δ) = 30"}, {"f": 2.5119e6, "v": -0.9231, "s": "ε(δ) = 30"}, {"f": 3.1623e6, "v": -0.9485, "s": "ε(δ) = 30"}, {"f": 3.9811e6, "v": -0.9677, "s": "ε(δ) = 30"}, {"f": 5.0119e6, "v": -0.9807, "s": "ε(δ) = 30"}, {"f": 6.3096e6, "v": -0.9888, "s": "ε(δ) = 30"}, {"f": 7.9433e6, "v": -0.9936, "s": "ε(δ) = 30"},
      {"f": 1e7, "v": -0.9964, "s": "ε(δ) = 30"}, {"f": 1.2589e7, "v": -0.998, "s": "ε(δ) = 30"}, {"f": 1.5849e7, "v": -0.9989, "s": "ε(δ) = 30"}, {"f": 1.9953e7, "v": -0.9994, "s": "ε(δ) = 30"}, {"f": 2.5119e7, "v": -0.9997, "s": "ε(δ) = 30"}, {"f": 3.1623e7, "v": -0.9998, "s": "ε(δ) = 30"}, {"f": 3.9811e7, "v": -0.9999, "s": "ε(δ) = 30"}, {"f": 5.0119e7, "v": -1.0, "s": "ε(δ) = 30"}, {"f": 6.3096e7, "v": -1.0, "s": "ε(δ) = 30"}, {"f": 7.9433e7, "v": -1.0, "s": "ε(δ) = 30"}, {"f": 1e8, "v": -1.0, "s": "ε(δ) = 30"}
    ],
    "capacitance": [
      {"f": 100, "v": 4.11e-9, "s": "ε(δ) = 3"}, {"f": 125.89, "v": 3.71e-9, "s": "ε(δ) = 3"}, {"f": 158.49, "v": 3.44e-9, "s": "ε(δ) = 3"}, {"f": 199.53, "v": 3.25e-9, "s": "ε(δ) = 3"}, {"f": 251.19, "v": 3.12e-9, "s": "ε(δ) = 3"}, {"f": 316.23, "v": 3.03e-9, "s": "ε(δ) = 3"}, {"f": 398.11, "v": 2.968e-9, "s": "ε(δ) = 3"}, {"f": 501.19, "v": 2.925e-9, "s": "ε(δ) = 3"}, {"f": 630.96, "v": 2.896e-9, "s": "ε(δ) = 3"}, {"f": 794.33, "v": 2.875e-9, "s": "ε(δ) = 3"},
      {"f": 1000, "v": 2.861e-9, "s": "ε(δ) = 3"}, {"f": 1258.9, "v": 2.852e-9, "s": "ε(δ) = 3"}, {"f": 1584.9, "v": 2.845e-9, "s": "ε(δ) = 3"}, {"f": 1995.3, "v": 2.84e-9, "s": "ε(δ) = 3"}, {"f": 2511.9, "v": 2.837e-9, "s": "ε(δ) = 3"}, {"f": 3162.3, "v": 2.835e-9, "s": "ε(δ) = 3"}, {"f": 3981.1, "v": 2.833e-9, "s": "ε(δ) = 3"}, {"f": 5011.9, "v": 2.832e-9, "s": "ε(δ) = 3"}, {"f": 6309.6, "v": 2.83e-9, "s": "ε(δ) = 3"}, {"f": 7943.3, "v": 2.83e-9, "s": "ε(δ) = 3"},
      {"f": 1e4, "v": 2.83e-9, "s": "ε(δ) = 3"}, {"f": 1.2589e4, "v": 2.83e-9, "s": "ε(δ) = 3"}, {"f": 1.5849e4, "v": 2.83e-9, "s": "ε(δ) = 3"}, {"f": 1.9953e4, "v": 2.83e-9, "s": "ε(δ) = 3"}, {"f": 2.5119e4, "v": 2.83e-9, "s": "ε(δ) = 3"}, {"f": 3.1623e4, "v": 2.83e-9, "s": "ε(δ) = 3"}, {"f": 3.9811e4, "v": 2.83e-9, "s": "ε(δ) = 3"}, {"f": 5.0119e4, "v": 2.83e-9, "s": "ε(δ) = 3"}, {"f": 6.3096e4, "v": 2.83e-9, "s": "ε(δ) = 3"}, {"f": 7.9433e4, "v": 2.83e-9, "s": "ε(δ) = 3"},
      {"f": 1e5, "v": 2.83e-9, "s": "ε(δ) = 3"}, {"f": 1.2589e5, "v": 2.83e-9, "s": "ε(δ) = 3"}, {"f": 1.5849e5, "v": 2.83e-9, "s": "ε(δ) = 3"}, {"f": 1.9953e5, "v": 2.83e-9, "s": "ε(δ) = 3"}, {"f": 2.5119e5, "v": 2.83e-9, "s": "ε(δ) = 3"}, {"f": 3.1623e5, "v": 2.83e-9, "s": "ε(δ) = 3"}, {"f": 3.9811e5, "v": 2.83e-9, "s": "ε(δ) = 3"}, {"f": 5.0119e5, "v": 2.83e-9, "s": "ε(δ) = 3"}, {"f": 6.3096e5, "v": 2.83e-9, "s": "ε(δ) = 3"}, {"f": 7.9433e5, "v": 2.83e-9, "s": "ε(δ) = 3"},
      {"f": 1e6, "v": 2.83e-9, "s": "ε(δ) = 3"}, {"f": 1.2589e6, "v": 2.835e-9, "s": "ε(δ) = 3"}, {"f": 1.5849e6, "v": 2.845e-9, "s": "ε(δ) = 3"}, {"f": 1.9953e6, "v": 2.86e-9, "s": "ε(δ) = 3"}, {"f": 2.5119e6, "v": 2.88e-9, "s": "ε(δ) = 3"}, {"f": 3.1623e6, "v": 2.91e-9, "s": "ε(δ) = 3"}, {"f": 3.9811e6, "v": 2.96e-9, "s": "ε(δ) = 3"}, {"f": 5.0119e6, "v": 3.02e-9, "s": "ε(δ) = 3"}, {"f": 6.3096e6, "v": 3.10e-9, "s": "ε(δ) = 3"}, {"f": 7.9433e6, "v": 3.19e-9, "s": "ε(δ) = 3"},
      {"f": 1e7, "v": 3.29e-9, "s": "ε(δ) = 3"}, {"f": 1.2589e7, "v": 3.41e-9, "s": "ε(δ) = 3"}, {"f": 1.5849e7, "v": 3.54e-9, "s": "ε(δ) = 3"}, {"f": 1.9953e7, "v": 3.69e-9, "s": "ε(δ) = 3"}, {"f": 2.5119e7, "v": 3.85e-9, "s": "ε(δ) = 3"}, {"f": 3.1623e7, "v": 4.03e-9, "s": "ε(δ) = 3"}, {"f": 3.9811e7, "v": 4.21e-9, "s": "ε(δ) = 3"}, {"f": 5.0119e7, "v": 4.40e-9, "s": "ε(δ) = 3"}, {"f": 6.3096e7, "v": 4.61e-9, "s": "ε(δ) = 3"}, {"f": 7.9433e7, "v": 4.82e-9, "s": "ε(δ) = 3"}, {"f": 1e8, "v": 5.05e-9, "s": "ε(δ) = 3"},

      {"f": 100, "v": 4.11e-9, "s": "ε(δ) = 10"}, {"f": 125.89, "v": 3.71e-9, "s": "ε(δ) = 10"}, {"f": 158.49, "v": 3.44e-9, "s": "ε(δ) = 10"}, {"f": 199.53, "v": 3.25e-9, "s": "ε(δ) = 10"}, {"f": 251.19, "v": 3.12e-9, "s": "ε(δ) = 10"}, {"f": 316.23, "v": 3.03e-9, "s": "ε(δ) = 10"}, {"f": 398.11, "v": 2.968e-9, "s": "ε(δ) = 10"}, {"f": 501.19, "v": 2.925e-9, "s": "ε(δ) = 10"}, {"f": 630.96, "v": 2.896e-9, "s": "ε(δ) = 10"}, {"f": 794.33, "v": 2.875e-9, "s": "ε(δ) = 10"},
      {"f": 1000, "v": 2.861e-9, "s": "ε(δ) = 10"}, {"f": 1258.9, "v": 2.852e-9, "s": "ε(δ) = 10"}, {"f": 1584.9, "v": 2.845e-9, "s": "ε(δ) = 10"}, {"f": 1995.3, "v": 2.84e-9, "s": "ε(δ) = 10"}, {"f": 2511.9, "v": 2.837e-9, "s": "ε(δ) = 10"}, {"f": 3162.3, "v": 2.835e-9, "s": "ε(δ) = 10"}, {"f": 3981.1, "v": 2.833e-9, "s": "ε(δ) = 10"}, {"f": 5011.9, "v": 2.832e-9, "s": "ε(δ) = 10"}, {"f": 6309.6, "v": 2.83e-9, "s": "ε(δ) = 10"}, {"f": 7943.3, "v": 2.83e-9, "s": "ε(δ) = 10"},
      {"f": 1e4, "v": 2.83e-9, "s": "ε(δ) = 10"}, {"f": 1.2589e4, "v": 2.83e-9, "s": "ε(δ) = 10"}, {"f": 1.5849e4, "v": 2.83e-9, "s": "ε(δ) = 10"}, {"f": 1.9953e4, "v": 2.83e-9, "s": "ε(δ) = 10"}, {"f": 2.5119e4, "v": 2.83e-9, "s": "ε(δ) = 10"}, {"f": 3.1623e4, "v": 2.83e-9, "s": "ε(δ) = 10"}, {"f": 3.9811e4, "v": 2.83e-9, "s": "ε(δ) = 10"}, {"f": 5.0119e4, "v": 2.83e-9, "s": "ε(δ) = 10"}, {"f": 6.3096e4, "v": 2.83e-9, "s": "ε(δ) = 10"}, {"f": 7.9433e4, "v": 2.83e-9, "s": "ε(δ) = 10"},
      {"f": 1e5, "v": 2.83e-9, "s": "ε(δ) = 10"}, {"f": 1.2589e5, "v": 2.83e-9, "s": "ε(δ) = 10"}, {"f": 1.5849e5, "v": 2.83e-9, "s": "ε(δ) = 10"}, {"f": 1.9953e5, "v": 2.83e-9, "s": "ε(δ) = 10"}, {"f": 2.5119e5, "v": 2.83e-9, "s": "ε(δ) = 10"}, {"f": 3.1623e5, "v": 2.83e-9, "s": "ε(δ) = 10"}, {"f": 3.9811e5, "v": 2.83e-9, "s": "ε(δ) = 10"}, {"f": 5.0119e5, "v": 2.83e-9, "s": "ε(δ) = 10"}, {"f": 6.3096e5, "v": 2.83e-9, "s": "ε(δ) = 10"}, {"f": 7.9433e5, "v": 2.83e-9, "s": "ε(δ) = 10"},
      {"f": 1e6, "v": 2.835e-9, "s": "ε(δ) = 10"}, {"f": 1.2589e6, "v": 2.85e-9, "s": "ε(δ) = 10"}, {"f": 1.5849e6, "v": 2.88e-9, "s": "ε(δ) = 10"}, {"f": 1.9953e6, "v": 2.93e-9, "s": "ε(δ) = 10"}, {"f": 2.5119e6, "v": 2.99e-9, "s": "ε(δ) = 10"}, {"f": 3.1623e6, "v": 3.07e-9, "s": "ε(δ) = 10"}, {"f": 3.9811e6, "v": 3.16e-9, "s": "ε(δ) = 10"}, {"f": 5.0119e6, "v": 3.27e-9, "s": "ε(δ) = 10"}, {"f": 6.3096e6, "v": 3.39e-9, "s": "ε(δ) = 10"}, {"f": 7.9433e6, "v": 3.53e-9, "s": "ε(δ) = 10"},
      {"f": 1e7, "v": 3.68e-9, "s": "ε(δ) = 10"}, {"f": 1.2589e7, "v": 3.84e-9, "s": "ε(δ) = 10"}, {"f": 1.5849e7, "v": 4.01e-9, "s": "ε(δ) = 10"}, {"f": 1.9953e7, "v": 4.19e-9, "s": "ε(δ) = 10"}, {"f": 2.5119e7, "v": 4.38e-9, "s": "ε(δ) = 10"}, {"f": 3.1623e7, "v": 4.60e-9, "s": "ε(δ) = 10"}, {"f": 3.9811e7, "v": 4.82e-9, "s": "ε(δ) = 10"}, {"f": 5.0119e7, "v": 5.05e-9, "s": "ε(δ) = 10"}, {"f": 6.3096e7, "v": 5.29e-9, "s": "ε(δ) = 10"}, {"f": 7.9433e7, "v": 5.54e-9, "s": "ε(δ) = 10"}, {"f": 1e8, "v": 5.80e-9, "s": "ε(δ) = 10"},

      {"f": 100, "v": 4.11e-9, "s": "ε(δ) = 30"}, {"f": 125.89, "v": 3.71e-9, "s": "ε(δ) = 30"}, {"f": 158.49, "v": 3.44e-9, "s": "ε(δ) = 30"}, {"f": 199.53, "v": 3.25e-9, "s": "ε(δ) = 30"}, {"f": 251.19, "v": 3.12e-9, "s": "ε(δ) = 30"}, {"f": 316.23, "v": 3.03e-9, "s": "ε(δ) = 30"}, {"f": 398.11, "v": 2.968e-9, "s": "ε(δ) = 30"}, {"f": 501.19, "v": 2.925e-9, "s": "ε(δ) = 30"}, {"f": 630.96, "v": 2.896e-9, "s": "ε(δ) = 30"}, {"f": 794.33, "v": 2.875e-9, "s": "ε(δ) = 30"},
      {"f": 1000, "v": 2.861e-9, "s": "ε(δ) = 30"}, {"f": 1258.9, "v": 2.852e-9, "s": "ε(δ) = 30"}, {"f": 1584.9, "v": 2.845e-9, "s": "ε(δ) = 30"}, {"f": 1995.3, "v": 2.84e-9, "s": "ε(δ) = 30"}, {"f": 2511.9, "v": 2.837e-9, "s": "ε(δ) = 30"}, {"f": 3162.3, "v": 2.835e-9, "s": "ε(δ) = 30"}, {"f": 3981.1, "v": 2.833e-9, "s": "ε(δ) = 30"}, {"f": 5011.9, "v": 2.832e-9, "s": "ε(δ) = 30"}, {"f": 6309.6, "v": 2.83e-9, "s": "ε(δ) = 30"}, {"f": 7943.3, "v": 2.83e-9, "s": "ε(δ) = 30"},
      {"f": 1e4, "v": 2.83e-9, "s": "ε(δ) = 30"}, {"f": 1.2589e4, "v": 2.83e-9, "s": "ε(δ) = 30"}, {"f": 1.5849e4, "v": 2.83e-9, "s": "ε(δ) = 30"}, {"f": 1.9953e4, "v": 2.83e-9, "s": "ε(δ) = 30"}, {"f": 2.5119e4, "v": 2.83e-9, "s": "ε(δ) = 30"}, {"f": 3.1623e4, "v": 2.83e-9, "s": "ε(δ) = 30"}, {"f": 3.9811e4, "v": 2.83e-9, "s": "ε(δ) = 30"}, {"f": 5.0119e4, "v": 2.83e-9, "s": "ε(δ) = 30"}, {"f": 6.3096e4, "v": 2.83e-9, "s": "ε(δ) = 30"}, {"f": 7.9433e4, "v": 2.83e-9, "s": "ε(δ) = 30"},
      {"f": 1e5, "v": 2.83e-9, "s": "ε(δ) = 30"}, {"f": 1.2589e5, "v": 2.83e-9, "s": "ε(δ) = 30"}, {"f": 1.5849e5, "v": 2.83e-9, "s": "ε(δ) = 30"}, {"f": 1.9953e5, "v": 2.83e-9, "s": "ε(δ) = 30"}, {"f": 2.5119e5, "v": 2.83e-9, "s": "ε(δ) = 30"}, {"f": 3.1623e5, "v": 2.83e-9, "s": "ε(δ) = 30"}, {"f": 3.9811e5, "v": 2.83e-9, "s": "ε(δ) = 30"}, {"f": 5.0119e5, "v": 2.83e-9, "s": "ε(δ) = 30"}, {"f": 6.3096e5, "v": 2.83e-9, "s": "ε(δ) = 30"}, {"f": 7.9433e5, "v": 2.83e-9, "s": "ε(δ) = 30"},
      {"f": 1e6, "v": 2.84e-9, "s": "ε(δ) = 30"}, {"f": 1.2589e6, "v": 2.86e-9, "s": "ε(δ) = 30"}, {"f": 1.5849e6, "v": 2.90e-9, "s": "ε(δ) = 30"}, {"f": 1.9953e6, "v": 2.96e-9, "s": "ε(δ) = 30"}, {"f": 2.5119e6, "v": 3.03e-9, "s": "ε(δ) = 30"}, {"f": 3.1623e6, "v": 3.11e-9, "s": "ε(δ) = 30"}, {"f": 3.9811e6, "v": 3.21e-9, "s": "ε(δ) = 30"}, {"f": 5.0119e6, "v": 3.33e-9, "s": "ε(δ) = 30"}, {"f": 6.3096e6, "v": 3.46e-9, "s": "ε(δ) = 30"}, {"f": 7.9433e6, "v": 3.60e-9, "s": "ε(δ) = 30"},
      {"f": 1e7, "v": 3.75e-9, "s": "ε(δ) = 30"}, {"f": 1.2589e7, "v": 3.91e-9, "s": "ε(δ) = 30"}, {"f": 1.5849e7, "v": 4.08e-9, "s": "ε(δ) = 30"}, {"f": 1.9953e7, "v": 4.27e-9, "s": "ε(δ) = 30"}, {"f": 2.5119e7, "v": 4.47e-9, "s": "ε(δ) = 30"}, {"f": 3.1623e7, "v": 4.68e-9, "s": "ε(δ) = 30"}, {"f": 3.9811e7, "v": 4.90e-9, "s": "ε(δ) = 30"}, {"f": 5.0119e7, "v": 5.13e-9, "s": "ε(δ) = 30"}, {"f": 6.3096e7, "v": 5.37e-9, "s": "ε(δ) = 30"}, {"f": 7.9433e7, "v": 5.62e-9, "s": "ε(δ) = 30"}, {"f": 1e8, "v": 5.88e-9, "s": "ε(δ) = 30"}
    ]
  },
  "columns": 1,
  "spacing": 12,
  "concat": [
    {
      "width": 283,
      "height": 234,
      "data": {"name": "impedance"},
      "layer": [
        {
          "mark": {"type": "line", "color": "#222", "strokeWidth": 0.8, "clip": true},
          "encoding": {
            "x": {"field": "f", "type": "quantitative", "scale": {"type": "log", "domain": [0.01, 1e8], "nice": false}, "axis": {"orient": "bottom", "values": [0.02,0.03,0.04,0.05,0.06,0.07,0.08,0.09,0.2,0.3,0.4,0.5,0.6,0.7,0.8,0.9,2,3,4,5,6,7,8,9,20,30,40,50,60,70,80,90,200,300,400,500,600,700,800,900,2000,3000,4000,5000,6000,7000,8000,9000,2e4,3e4,4e4,5e4,6e4,7e4,8e4,9e4,2e5,3e5,4e5,5e5,6e5,7e5,8e5,9e5,2e6,3e6,4e6,5e6,6e6,7e6,8e6,9e6,2e7,3e7,4e7,5e7,6e7,7e7,8e7,9e7], "labels": false, "tickSize": 3, "title": null}},
            "y": {"field": "v", "type": "quantitative", "scale": {"type": "log", "domain": [10, 1e7], "nice": false}, "axis": {"orient": "left", "values": [20,30,40,50,60,70,80,90,200,300,400,500,600,700,800,900,2000,3000,4000,5000,6000,7000,8000,9000,2e4,3e4,4e4,5e4,6e4,7e4,8e4,9e4,2e5,3e5,4e5,5e5,6e5,7e5,8e5,9e5,2e6,3e6,4e6,5e6,6e6,7e6,8e6,9e6], "labels": false, "tickSize": 3, "title": null}},
            "detail": {"field": "s", "type": "nominal"}
          }
        },
        {
          "mark": {"type": "point", "filled": false, "color": "#222", "strokeWidth": 0.9, "size": 18, "opacity": 1, "clip": true},
          "encoding": {
            "x": {"field": "f", "type": "quantitative", "scale": {"type": "log", "domain": [0.01, 1e8], "nice": false}, "axis": {"orient": "bottom", "domain": true, "values": [0.01,0.1,1,10,100,1000,1e4,1e5,1e6,1e7,1e8], "labelExpr": "datum.value < 0.05 ? '10⁻²' : datum.value < 0.5 ? '' : datum.value < 5 ? '10⁰' : datum.value < 50 ? '' : datum.value < 500 ? '10²' : datum.value < 5000 ? '' : datum.value < 50000 ? '10⁴' : datum.value < 500000 ? '' : datum.value < 5000000 ? '10⁶' : datum.value < 50000000 ? '' : '10⁸'", "title": "f / Hz", "titlePadding": 9}},
            "y": {"field": "v", "type": "quantitative", "scale": {"type": "log", "domain": [10, 1e7], "nice": false}, "axis": {"orient": "left", "domain": true, "values": [10,100,1000,1e4,1e5,1e6,1e7], "labelExpr": "datum.value < 50 ? '10¹' : datum.value < 500 ? '' : datum.value < 5000 ? '10³' : datum.value < 50000 ? '' : datum.value < 500000 ? '10⁵' : datum.value < 5000000 ? '' : '10⁷'", "title": "-Zⱼ / Ω", "titlePadding": 5}},
            "shape": {"field": "s", "type": "nominal", "scale": {"domain": ["ε(δ) = 3", "ε(δ) = 10", "ε(δ) = 30"], "range": ["square", "circle", "triangle-up"]}, "legend": null}
          }
        },
        {
          "transform": [{"filter": "false"}],
          "mark": {"type": "point", "filled": false, "color": "#222", "strokeWidth": 0.8, "size": 0},
          "encoding": {
            "x": {"field": "f", "type": "quantitative", "axis": null},
            "y": {"field": "v", "type": "quantitative", "axis": null},
            "shape": {
              "field": "s", "type": "nominal",
              "scale": {"domain": ["ε(δ) = 3", "ε(δ) = 10", "ε(δ) = 30"], "range": ["M-5.5,0H-1M1,0H5.5M-1,-1H1V1H-1Z", "M-5.5,0H-1.1M1.1,0H5.5M-1.1,0A1.1,1.1,0,1,0,1.1,0A1.1,1.1,0,1,0,-1.1,0Z", "M-5.5,0H-0.75M0.75,0H5.5M0,-1.3L1.25,0.85H-1.25Z"]},
              "legend": {"title": null, "orient": "none", "legendX": 204, "legendY": 18.5, "labelFontSize": 10.5, "labelColor": "#222", "symbolSize": 16, "symbolStrokeColor": "#222", "symbolStrokeWidth": 0.8, "symbolOpacity": 1, "symbolOffset": 9, "labelOffset": 14.5, "rowPadding": 2.3}
            }
          }
        },
        {
          "mark": {"type": "point", "opacity": 0},
          "encoding": {
            "x": {"field": "f", "type": "quantitative", "scale": {"type": "log", "domain": [0.01, 1e8], "nice": false}, "axis": {"orient": "top", "domain": true, "values": [0.01,0.1,1,10,100,1000,1e4,1e5,1e6,1e7,1e8], "labels": false, "title": null}},
            "y": {"field": "v", "type": "quantitative", "scale": {"type": "log", "domain": [10, 1e7], "nice": false}, "axis": {"orient": "right", "domain": true, "values": [10,100,1000,1e4,1e5,1e6,1e7], "labels": false, "title": null}}
          }
        },
        {
          "mark": {"type": "point", "opacity": 0},
          "encoding": {
            "x": {"field": "f", "type": "quantitative", "scale": {"type": "log", "domain": [0.01, 1e8], "nice": false}, "axis": {"orient": "top", "values": [0.02,0.03,0.04,0.05,0.06,0.07,0.08,0.09,0.2,0.3,0.4,0.5,0.6,0.7,0.8,0.9,2,3,4,5,6,7,8,9,20,30,40,50,60,70,80,90,200,300,400,500,600,700,800,900,2000,3000,4000,5000,6000,7000,8000,9000,2e4,3e4,4e4,5e4,6e4,7e4,8e4,9e4,2e5,3e5,4e5,5e5,6e5,7e5,8e5,9e5,2e6,3e6,4e6,5e6,6e6,7e6,8e6,9e6,2e7,3e7,4e7,5e7,6e7,7e7,8e7,9e7], "labels": false, "tickSize": 3, "title": null}},
            "y": {"field": "v", "type": "quantitative", "scale": {"type": "log", "domain": [10, 1e7], "nice": false}, "axis": {"orient": "right", "values": [20,30,40,50,60,70,80,90,200,300,400,500,600,700,800,900,2000,3000,4000,5000,6000,7000,8000,9000,2e4,3e4,4e4,5e4,6e4,7e4,8e4,9e4,2e5,3e5,4e5,5e5,6e5,7e5,8e5,9e5,2e6,3e6,4e6,5e6,6e6,7e6,8e6,9e6], "labels": false, "tickSize": 3, "title": null}}
          }
        },
        {
          "data": {"values": [{}]},
          "mark": {"type": "rule", "color": "#555", "strokeWidth": 0.8, "strokeDash": [1.5, 1.5]},
          "encoding": {
            "x": {"datum": 65, "type": "quantitative", "axis": null},
            "y": {"datum": 32000, "type": "quantitative", "axis": null},
            "y2": {"datum": 3100000}
          }
        },
        {
          "data": {"values": [{}]},
          "mark": {"type": "text", "font": "Liberation Serif", "fontSize": 11, "fontStyle": "italic", "align": "left", "baseline": "middle", "color": "#333"},
          "encoding": {
            "x": {"datum": 8.5, "type": "quantitative", "axis": null},
            "y": {"datum": 3900000, "type": "quantitative", "axis": null},
            "text": {"value": "f"}
          }
        },
        {
          "data": {"values": [{}]},
          "mark": {"type": "text", "font": "Liberation Serif", "fontSize": 11, "align": "left", "baseline": "middle", "color": "#333", "dx": 3.5},
          "encoding": {
            "x": {"datum": 8.5, "type": "quantitative", "axis": null},
            "y": {"datum": 3900000, "type": "quantitative", "axis": null},
            "text": {"value": "₀ = (2πρ(0)ε(0)ε₀)⁻¹"}
          }
        },
        {
          "data": {"values": [{}]},
          "mark": {"type": "text", "fontSize": 14, "align": "left", "baseline": "middle", "color": "#222"},
          "encoding": {
            "x": {"datum": 0.0162, "type": "quantitative", "axis": null},
            "y": {"datum": 3900000, "type": "quantitative", "axis": null},
            "text": {"value": "a"}
          }
        }
      ],
      "resolve": {"axis": {"x": "independent", "y": "independent"}, "scale": {"shape": "independent"}, "legend": {"shape": "independent"}}
    },
    {
      "width": 288,
      "height": 233,
      "data": {"name": "slope"},
      "layer": [
        {
          "mark": {"type": "line", "color": "#222", "strokeWidth": 0.8, "clip": true},
          "encoding": {
            "x": {"field": "f", "type": "quantitative", "scale": {"type": "log", "domain": [100, 1e8], "range": [4, 288], "nice": false}, "axis": {"orient": "bottom", "values": [200,300,400,500,600,700,800,900,2000,3000,4000,5000,6000,7000,8000,9000,2e4,3e4,4e4,5e4,6e4,7e4,8e4,9e4,2e5,3e5,4e5,5e5,6e5,7e5,8e5,9e5,2e6,3e6,4e6,5e6,6e6,7e6,8e6,9e6,2e7,3e7,4e7,5e7,6e7,7e7,8e7,9e7], "labels": false, "tickSize": 3, "title": null}},
            "y": {"field": "v", "type": "quantitative", "scale": {"domain": [-1.019, -0.675], "nice": false, "zero": false}, "axis": {"orient": "left", "offset": -4, "values": [-0.975,-0.925,-0.875,-0.825,-0.775,-0.725], "labels": false, "tickSize": 3, "title": null}},
            "detail": {"field": "s", "type": "nominal"}
          }
        },
        {
          "mark": {"type": "point", "filled": false, "color": "#222", "strokeWidth": 0.9, "size": 24, "opacity": 1, "clip": true},
          "encoding": {
            "x": {"field": "f", "type": "quantitative", "scale": {"type": "log", "domain": [100, 1e8], "range": [4, 288], "nice": false}, "axis": {"orient": "bottom", "domain": true, "values": [100,1000,1e4,1e5,1e6,1e7,1e8], "labelExpr": "datum.value < 500 ? '10²' : datum.value < 5000 ? '' : datum.value < 50000 ? '10⁴' : datum.value < 500000 ? '' : datum.value < 5000000 ? '10⁶' : datum.value < 50000000 ? '' : '10⁸'", "title": "f /  Hz", "titlePadding": 12}},
            "y": {"field": "v", "type": "quantitative", "scale": {"domain": [-1.019, -0.675], "nice": false, "zero": false}, "axis": {"orient": "left", "offset": -4, "domain": true, "values": [-1,-0.95,-0.9,-0.85,-0.8,-0.75,-0.7], "labelExpr": "(datum.value < 0 ? '-' : '') + format(abs(datum.value), '.2f')", "labelPadding": 7, "title": "dlog(-Zⱼ)/dlog(f)", "titlePadding": 2}},
            "shape": {"field": "s", "type": "nominal", "scale": {"domain": ["ε(δ) = 3", "ε(δ) = 10", "ε(δ) = 30"], "range": ["square", "circle", "triangle-up"]}, "legend": null}
          }
        },
        {
          "transform": [{"filter": "false"}],
          "mark": {"type": "point", "filled": false, "color": "#222", "strokeWidth": 0.8, "size": 0},
          "encoding": {
            "x": {"field": "f", "type": "quantitative", "axis": null},
            "y": {"field": "v", "type": "quantitative", "axis": null},
            "shape": {
              "field": "s", "type": "nominal",
              "scale": {"domain": ["ε(δ) = 3", "ε(δ) = 10", "ε(δ) = 30"], "range": ["M-4,0H-1.1M1.1,0H4M-1.1,-1.1H1.1V1.1H-1.1Z", "M-4,0H-1.2M1.2,0H4M-1.2,0A1.2,1.2,0,1,0,1.2,0A1.2,1.2,0,1,0,-1.2,0Z", "M-4,0H-0.8M0.8,0H4M0,-1.4L1.35,0.9H-1.35Z"]},
              "legend": {"title": null, "orient": "none", "legendX": 189, "legendY": 18.5, "labelFontSize": 11, "labelColor": "#222", "symbolSize": 16, "symbolStrokeColor": "#222", "symbolStrokeWidth": 0.8, "symbolOpacity": 1, "symbolOffset": 6, "labelOffset": 6, "rowPadding": 2.3}
            }
          }
        },
        {
          "mark": {"type": "point", "opacity": 0},
          "encoding": {
            "x": {"field": "f", "type": "quantitative", "scale": {"type": "log", "domain": [100, 1e8], "range": [4, 288], "nice": false}, "axis": {"orient": "top", "domain": true, "values": [100,1000,1e4,1e5,1e6,1e7,1e8], "labels": false, "title": null}},
            "y": {"field": "v", "type": "quantitative", "scale": {"domain": [-1.019, -0.675], "nice": false, "zero": false}, "axis": {"orient": "right", "domain": true, "values": [-1,-0.95,-0.9,-0.85,-0.8,-0.75,-0.7], "labels": false, "title": null}}
          }
        },
        {
          "mark": {"type": "point", "opacity": 0},
          "encoding": {
            "x": {"field": "f", "type": "quantitative", "scale": {"type": "log", "domain": [100, 1e8], "range": [4, 288], "nice": false}, "axis": {"orient": "top", "values": [200,300,400,500,600,700,800,900,2000,3000,4000,5000,6000,7000,8000,9000,2e4,3e4,4e4,5e4,6e4,7e4,8e4,9e4,2e5,3e5,4e5,5e5,6e5,7e5,8e5,9e5,2e6,3e6,4e6,5e6,6e6,7e6,8e6,9e6,2e7,3e7,4e7,5e7,6e7,7e7,8e7,9e7], "labels": false, "tickSize": 3, "title": null}},
            "y": {"field": "v", "type": "quantitative", "scale": {"domain": [-1.019, -0.675], "nice": false, "zero": false}, "axis": {"orient": "right", "values": [-0.975,-0.925,-0.875,-0.825,-0.775,-0.725], "labels": false, "tickSize": 3, "title": null}}
          }
        },
        {
          "data": {"values": [{}]},
          "mark": {"type": "text", "fontSize": 14, "align": "left", "baseline": "middle", "color": "#222"},
          "encoding": {
            "x": {"datum": 150, "type": "quantitative", "axis": null},
            "y": {"datum": -0.70, "type": "quantitative", "axis": null},
            "text": {"value": "b"}
          }
        }
      ],
      "resolve": {"axis": {"x": "independent", "y": "independent"}, "scale": {"shape": "independent"}, "legend": {"shape": "independent"}}
    },
    {
      "width": 297,
      "height": 231,
      "data": {"name": "capacitance"},
      "layer": [
        {
          "mark": {"type": "line", "color": "#222", "strokeWidth": 0.8, "clip": true},
          "encoding": {
            "x": {"field": "f", "type": "quantitative", "scale": {"type": "log", "domain": [100, 1e8], "range": [13, 297], "nice": false}, "axis": {"orient": "bottom", "values": [200,300,400,500,600,700,800,900,2000,3000,4000,5000,6000,7000,8000,9000,2e4,3e4,4e4,5e4,6e4,7e4,8e4,9e4,2e5,3e5,4e5,5e5,6e5,7e5,8e5,9e5,2e6,3e6,4e6,5e6,6e6,7e6,8e6,9e6,2e7,3e7,4e7,5e7,6e7,7e7,8e7,9e7], "labels": false, "tickSize": 3, "title": null}},
            "y": {"field": "v", "type": "quantitative", "scale": {"domain": [0, 8e-9], "nice": false}, "axis": {"orient": "left", "offset": -13, "values": [1e-9, 3e-9, 5e-9, 7e-9], "labels": false, "tickSize": 3, "title": null}},
            "detail": {"field": "s", "type": "nominal"}
          }
        },
        {
          "mark": {"type": "point", "filled": false, "color": "#222", "strokeWidth": 0.9, "size": 24, "opacity": 1, "clip": true},
          "encoding": {
            "x": {"field": "f", "type": "quantitative", "scale": {"type": "log", "domain": [100, 1e8], "range": [13, 297], "nice": false}, "axis": {"orient": "bottom", "domain": true, "values": [100,1000,1e4,1e5,1e6,1e7,1e8], "labelExpr": "datum.value < 500 ? '10²' : datum.value < 5000 ? '' : datum.value < 50000 ? '10⁴' : datum.value < 500000 ? '' : datum.value < 5000000 ? '10⁶' : datum.value < 50000000 ? '' : '10⁸'", "title": "f /  Hz", "titlePadding": 13}},
            "y": {"field": "v", "type": "quantitative", "scale": {"domain": [0, 8e-9], "nice": false}, "axis": {"orient": "left", "offset": -13, "domain": true, "values": [0, 2e-9, 4e-9, 6e-9, 8e-9], "labelExpr": "datum.value == 0 ? '0.0' : format(datum.value * 1000000000, '.1f') + 'x10⁻⁹'", "title": "Q / Ω⁻¹ sᵅ", "titlePadding": 6}},
            "shape": {"field": "s", "type": "nominal", "scale": {"domain": ["ε(δ) = 3", "ε(δ) = 10", "ε(δ) = 30"], "range": ["square", "circle", "triangle-up"]}, "legend": null}
          }
        },
        {
          "transform": [{"filter": "false"}],
          "mark": {"type": "point", "filled": false, "color": "#222", "strokeWidth": 0.8, "size": 0},
          "encoding": {
            "x": {"field": "f", "type": "quantitative", "axis": null},
            "y": {"field": "v", "type": "quantitative", "axis": null},
            "shape": {
              "field": "s", "type": "nominal",
              "scale": {"domain": ["ε(δ) = 3", "ε(δ) = 10", "ε(δ) = 30"], "range": ["M-5.5,0H-1M1,0H5.5M-1,-1H1V1H-1Z", "M-5.5,0H-1.1M1.1,0H5.5M-1.1,0A1.1,1.1,0,1,0,1.1,0A1.1,1.1,0,1,0,-1.1,0Z", "M-5.5,0H-0.75M0.75,0H5.5M0,-1.3L1.25,0.85H-1.25Z"]},
              "legend": {"title": null, "orient": "none", "legendX": 184, "legendY": 15.5, "labelFontSize": 10.5, "labelColor": "#222", "symbolSize": 16, "symbolStrokeColor": "#222", "symbolStrokeWidth": 0.8, "symbolOpacity": 1, "symbolOffset": 9, "labelOffset": 12, "rowPadding": 2}
            }
          }
        },
        {
          "mark": {"type": "point", "opacity": 0},
          "encoding": {
            "x": {"field": "f", "type": "quantitative", "scale": {"type": "log", "domain": [100, 1e8], "range": [13, 297], "nice": false}, "axis": {"orient": "top", "domain": true, "values": [100,1000,1e4,1e5,1e6,1e7,1e8], "labels": false, "title": null}},
            "y": {"field": "v", "type": "quantitative", "scale": {"domain": [0, 8e-9], "nice": false}, "axis": {"orient": "right", "domain": true, "values": [0, 2e-9, 4e-9, 6e-9, 8e-9], "labels": false, "title": null}}
          }
        },
        {
          "mark": {"type": "point", "opacity": 0},
          "encoding": {
            "x": {"field": "f", "type": "quantitative", "scale": {"type": "log", "domain": [100, 1e8], "range": [13, 297], "nice": false}, "axis": {"orient": "top", "values": [200,300,400,500,600,700,800,900,2000,3000,4000,5000,6000,7000,8000,9000,2e4,3e4,4e4,5e4,6e4,7e4,8e4,9e4,2e5,3e5,4e5,5e5,6e5,7e5,8e5,9e5,2e6,3e6,4e6,5e6,6e6,7e6,8e6,9e6,2e7,3e7,4e7,5e7,6e7,7e7,8e7,9e7], "labels": false, "tickSize": 3, "title": null}},
            "y": {"field": "v", "type": "quantitative", "scale": {"domain": [0, 8e-9], "nice": false}, "axis": {"orient": "right", "values": [1e-9, 3e-9, 5e-9, 7e-9], "labels": false, "tickSize": 3, "title": null}}
          }
        },
        {
          "data": {"values": [{}]},
          "mark": {"type": "text", "fontSize": 14, "align": "left", "baseline": "middle", "color": "#222"},
          "encoding": {
            "x": {"datum": 140, "type": "quantitative", "axis": null},
            "y": {"datum": 7.6e-9, "type": "quantitative", "axis": null},
            "text": {"value": "c"}
          }
        }
      ],
      "resolve": {"axis": {"x": "independent", "y": "independent"}, "scale": {"shape": "independent"}, "legend": {"shape": "independent"}}
    }
  ]
}
